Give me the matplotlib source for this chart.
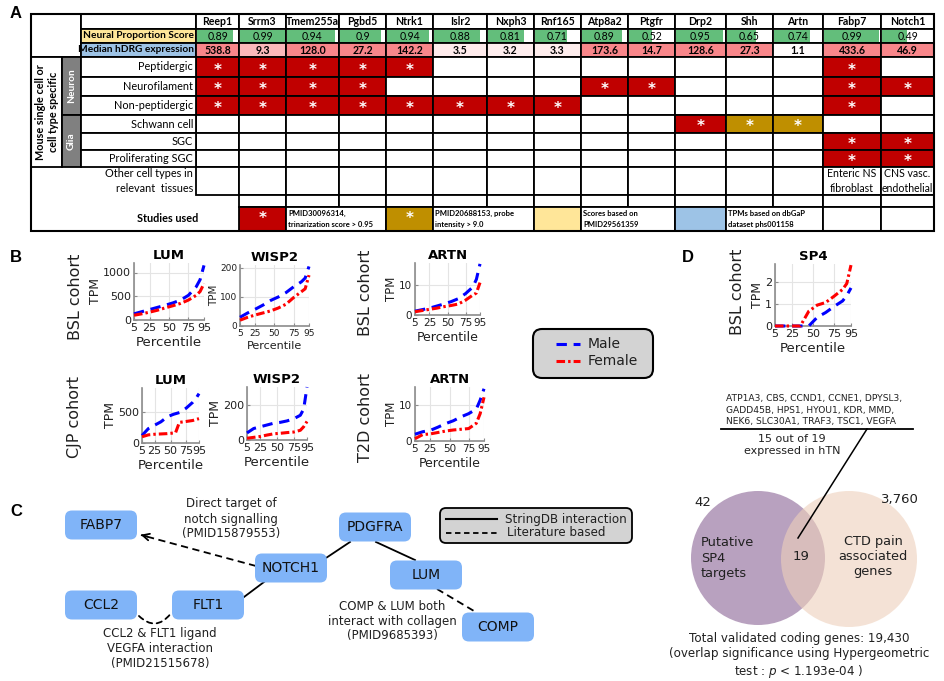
import numpy as np
import matplotlib
matplotlib.use("Agg")
import matplotlib.pyplot as plt
from matplotlib.patches import Rectangle, FancyBboxPatch, Circle, FancyArrowPatch

W, H = 944, 681

# ---------------- panel A: marker gene table ----------------
genes = ["Reep1", "Srrm3", "Tmem255a", "Pgbd5", "Ntrk1", "Islr2", "Nxph3", "Rnf165",
         "Atp8a2", "Ptgfr", "Drp2", "Shh", "Artn", "Fabp7", "Notch1"]
neural_score = [0.89, 0.99, 0.94, 0.9, 0.94, 0.88, 0.81, 0.71, 0.89, 0.52, 0.95, 0.65, 0.74, 0.99, 0.49]
median_hdrg = [538.8, 9.3, 128.0, 27.2, 142.2, 3.5, 3.2, 3.3, 173.6, 14.7, 128.6, 27.3, 1.1, 433.6, 46.9]
cell_types = ["Peptidergic", "Neurofilament", "Non-peptidergic", "Schwann cell", "SGC", "Proliferating SGC"]
# 1 = PMID30096314 (red), 2 = PMID20688153 (gold)
specific = [
    [1, 1, 1, 1, 1, 0, 0, 0, 0, 0, 0, 0, 0, 1, 0],
    [1, 1, 1, 1, 0, 0, 0, 0, 1, 1, 0, 0, 0, 1, 1],
    [1, 1, 1, 1, 1, 1, 1, 1, 0, 0, 0, 0, 0, 1, 0],
    [0, 0, 0, 0, 0, 0, 0, 0, 0, 0, 1, 2, 2, 0, 0],
    [0, 0, 0, 0, 0, 0, 0, 0, 0, 0, 0, 0, 0, 1, 1],
    [0, 0, 0, 0, 0, 0, 0, 0, 0, 0, 0, 0, 0, 1, 1],
]
other_types = [""] * 13 + ["Enteric NS\nfibroblast", "CNS vasc.\nendothelial"]

# ---------------- panel B / D: TPM by percentile ----------------
pct = [5, 15, 25, 35, 45, 55, 65, 75, 85, 90, 95]
bsl_lum_m = [130, 175, 220, 265, 310, 360, 420, 520, 700, 850, 1150]
bsl_lum_f = [100, 130, 165, 205, 255, 300, 350, 420, 520, 600, 770]
bsl_wisp2_m = [30, 45, 58, 72, 88, 100, 115, 135, 152, 165, 205]
bsl_wisp2_f = [20, 30, 38, 45, 52, 62, 75, 98, 118, 128, 175]
cjp_lum_m = [120, 230, 285, 340, 420, 460, 490, 560, 650, 710, 790]
pct_cjp_lum_f = [5, 15, 25, 35, 45, 55, 58, 64, 75, 85, 95]
cjp_lum_f = [100, 130, 140, 145, 150, 160, 165, 330, 345, 360, 390]
cjp_wisp2_m = [40, 65, 75, 85, 95, 100, 108, 120, 140, 175, 300]
cjp_wisp2_f = [10, 15, 20, 28, 35, 38, 42, 45, 55, 75, 105]
bsl_artn_m = [1.3, 1.8, 2.3, 3.0, 3.7, 4.5, 5.5, 7.2, 9.4, 12.0, 17.2]
bsl_artn_f = [1.1, 1.5, 1.9, 2.3, 2.8, 3.2, 3.7, 5.0, 6.7, 7.4, 10.9]
t2d_artn_m = [1.9, 2.6, 3.0, 3.9, 4.9, 5.7, 6.8, 7.7, 9.0, 11.5, 14.7]
t2d_artn_f = [0.65, 1.8, 2.0, 2.4, 2.8, 3.1, 3.3, 3.5, 5.0, 7.7, 12.3]
sp4_m = [0, 0, 0, 0, 0, 0.4, 0.62, 0.9, 1.15, 1.4, 1.75]
sp4_f = [0, 0, 0, 0, 0.68, 0.96, 1.08, 1.37, 1.68, 1.95, 2.8]

# ---------------- panel D: venn ----------------
venn_left, venn_both, venn_right = 42, 19, 3760
sp4_genes = ["ATP1A3, CBS, CCND1, CCNE1, DPYSL3,",
             "GADD45B, HPS1, HYOU1, KDR, MMD,",
             "NEK6, SLC30A1, TRAF3, TSC1, VEGFA"]
total_genes = 19430
p_value = 1.193e-04

TABLE_FONT = "Lato"
plt.rcParams["font.family"] = ["DejaVu Sans"]

fig = plt.figure(figsize=(W / 100, H / 100), dpi=100)
ax0 = fig.add_axes([0, 0, 1, 1])
ax0.set_xlim(0, W)
ax0.set_ylim(H, 0)
ax0.axis("off")


def px_rect(l, t, r, b):
    return [l / W, 1 - b / H, (r - l) / W, (b - t) / H]


def cell(x0, y0, x1, y1, fc="white", ec="black", lw=1.3):
    ax0.add_patch(Rectangle((x0, y0), x1 - x0, y1 - y0, facecolor=fc, edgecolor=ec, lw=lw))


def star(x, y):
    ax0.text(x, y + 3, "*", color="white", fontsize=11, fontweight="bold",
             ha="center", va="center", family="DejaVu Sans")


for lab, (x, y) in zip("ABCD", [(10, 13), (10, 258), (10, 512), (682, 258)]):
    ax0.text(x, y, lab, fontsize=12, fontweight="bold", family="Liberation Sans",
             ha="left", va="center")

col_x = [196, 239, 286, 339, 386, 433, 487, 534, 581, 628, 675, 726, 773, 823, 881, 934]
row_y = [14, 29, 43, 57, 77, 96, 115, 133, 150, 167, 195, 207, 231]
RED, GOLD, YEL, BLU = "#C00000", "#BF8F00", "#FFE699", "#9DC3E6"

cell(31, 14, 81, 57)
cell(81, 14, 196, 29)
cell(81, 29, 196, 43, fc=YEL)
cell(81, 43, 196, 57, fc=BLU)
ax0.text(194, 36, "Neural Proportion Score", ha="right", va="center", fontsize=7.3,
         fontweight="bold", family=TABLE_FONT)
ax0.text(194.5, 50, "Median hDRG expression", ha="right", va="center", fontsize=7.3,
         fontweight="bold", family=TABLE_FONT)
cell(31, 57, 62, 167)
ax0.text(47, 112, "Mouse single cell or\ncell type specific", rotation=90, ha="center",
         va="center", fontsize=7.8, fontweight="bold", family=TABLE_FONT, linespacing=1.2)
cell(62, 57, 81, 115, fc="#808080")
cell(62, 115, 81, 167, fc="#808080")
ax0.text(71.5, 86, "Neuron", rotation=90, color="white", ha="center", va="center",
         fontsize=7.3, fontweight="bold", family=TABLE_FONT)
ax0.text(71.5, 141, "Glia", rotation=90, color="white", ha="center", va="center",
         fontsize=7.3, fontweight="bold", family=TABLE_FONT)

sal = np.array([248, 134, 138]) / 255.0
for j, g in enumerate(genes):
    x0, x1 = col_x[j], col_x[j + 1]
    xc = (x0 + x1) / 2
    cell(x0, row_y[0], x1, row_y[1])
    ax0.text(xc, (row_y[0] + row_y[1]) / 2, g, ha="center", va="center", fontsize=7.6,
             fontweight="bold", family=TABLE_FONT)
    # neural proportion score with data bar
    cell(x0, row_y[1], x1, row_y[2])
    ax0.add_patch(Rectangle((x0 + 1, row_y[1] + 1), (x1 - x0 - 2) * neural_score[j],
                            row_y[2] - row_y[1] - 2, facecolor="#63BE7B", edgecolor="none"))
    ax0.text(xc, (row_y[1] + row_y[2]) / 2, f"{neural_score[j]:g}", ha="center", va="center",
             fontsize=7.6, family=TABLE_FONT)
    # median hDRG expression colour scale
    t = min(1.0, (median_hdrg[j] / 14.0) ** 1.3)
    fc = 1 - t * (1 - sal)
    cell(x0, row_y[2], x1, row_y[3], fc=fc)
    ax0.text(xc, (row_y[2] + row_y[3]) / 2, f"{median_hdrg[j]:.1f}", ha="center", va="center",
             fontsize=7.6, fontweight="bold", family=TABLE_FONT)
    for i in range(len(cell_types)):
        v = specific[i][j]
        y0, y1 = row_y[3 + i], row_y[4 + i]
        cell(x0, y0, x1, y1, fc=["white", RED, GOLD][v])
        if v:
            star(xc, (y0 + y1) / 2)
    cell(x0, row_y[9], x1, row_y[10])
    if other_types[j]:
        ax0.text(xc, (row_y[9] + row_y[10]) / 2, other_types[j], ha="center", va="center",
                 fontsize=7.6, family=TABLE_FONT, linespacing=1.5)
    if j > 0:
        cell(x0, row_y[10], x1, row_y[11])

for i, ct in enumerate(cell_types):
    y0, y1 = row_y[3 + i], row_y[4 + i]
    cell(81, y0, 196, y1)
    ax0.text(193, (y0 + y1) / 2, ct, ha="right", va="center", fontsize=7.8, family=TABLE_FONT)
ax0.text(193, 181, "Other cell types in\nrelevant  tissues", ha="right", va="center",
         fontsize=7.8, family=TABLE_FONT, linespacing=1.55)
ax0.text(168, 219, "Studies used", ha="center", va="center", fontsize=7.8,
         fontweight="bold", family=TABLE_FONT)

studies = [(239, 286, RED, True, ""),
           (286, 386, "white", False, "PMID30096314,\ntrinarization score > 0.95"),
           (386, 433, GOLD, True, ""),
           (433, 534, "white", False, "PMID20688153, probe\nintensity > 9.0"),
           (534, 581, YEL, False, ""),
           (581, 675, "white", False, "Scores based on\nPMID29561359"),
           (675, 726, BLU, False, ""),
           (726, 823, "white", False, "TPMs based on dbGaP\ndataset phs001158"),
           (823, 881, "white", False, ""),
           (881, 934, "white", False, "")]
for x0, x1, fc, st, txt in studies:
    cell(x0, row_y[11], x1, row_y[12], fc=fc)
    if st:
        star((x0 + x1) / 2, (row_y[11] + row_y[12]) / 2 - 3)
    if txt:
        ax0.text(x0 + 2, (row_y[11] + row_y[12]) / 2, txt, ha="left", va="center",
                 fontsize=5.5, fontweight="bold", family=TABLE_FONT, linespacing=1.6)
ax0.add_patch(Rectangle((31, 14), 934 - 31, 231 - 14, fill=False, edgecolor="black", lw=1.5))


# ---------------- line panels ----------------
def trace_panel(box, title, ym, yf, ylim, yticks, xf=pct, fs=8.0):
    ax = fig.add_axes(px_rect(*box))
    ax.plot(pct, ym, color="#0000FF", ls=(0, (3.4, 2.2)), lw=2.2, zorder=3, clip_on=False)
    ax.plot(xf, yf, color="#FF0000", ls=(0, (2.8, 1.0, 0.8, 1.0)), lw=2.2, zorder=4, clip_on=False)
    ax.set_xlim(5, 95)
    ax.set_ylim(*ylim)
    ax.set_xticks([5, 25, 50, 75, 95])
    ax.set_yticks(yticks)
    ax.grid(True, color="#E4E4E4", lw=0.8)
    ax.set_axisbelow(True)
    for s in ("top", "right"):
        ax.spines[s].set_visible(False)
    for s in ("left", "bottom"):
        ax.spines[s].set_color("#8C8C8C")
        ax.spines[s].set_linewidth(1.2)
    ax.tick_params(direction="in", length=2.5, color="#8C8C8C", labelsize=fs, pad=2,
                   labelcolor="#202020")
    ax.set_title(title, fontsize=9.5, fontweight="bold", pad=3)
    ax.set_xlabel("Percentile", fontsize=fs + 1.5, labelpad=2, color="#202020")
    ax.set_ylabel("TPM", fontsize=fs + 1, labelpad=1, color="#202020")
    return ax


trace_panel((134, 263, 204, 320), "LUM", bsl_lum_m, bsl_lum_f, (0, 1200), [0, 500, 1000])
trace_panel((240, 265, 309, 326), "WISP2", bsl_wisp2_m, bsl_wisp2_f, (0, 210), [0, 100, 200], fs=6.5)
trace_panel((142, 388, 199, 443), "LUM", cjp_lum_m, cjp_lum_f, (0, 880), [0, 500], xf=pct_cjp_lum_f)
trace_panel((247, 387, 307, 440), "WISP2", cjp_wisp2_m, cjp_wisp2_f, (0, 300), [0, 200])
trace_panel((415, 263, 480, 315), "ARTN", bsl_artn_m, bsl_artn_f, (0, 17.5), [0, 10], fs=7.5)
trace_panel((415, 387, 484, 441), "ARTN", t2d_artn_m, t2d_artn_f, (0, 15.2), [0, 10], fs=7.5)
trace_panel((775, 264, 851, 326), "SP4", sp4_m, sp4_f, (0, 2.85), [0, 1, 2])

for x, y, txt in [(75, 297, "BSL cohort"), (75, 417, "CJP cohort"), (365, 293, "BSL cohort"),
                  (365, 417, "T2D cohort"), (738, 292, "BSL cohort")]:
    ax0.text(x, y, txt, rotation=90, ha="center", va="center", fontsize=11.5, color="#202020")

# legend for B
ax0.add_patch(FancyBboxPatch((533, 329), 120, 49, boxstyle="round,pad=0,rounding_size=9",
                             facecolor="#D3D3D3", edgecolor="black", lw=1.5))
ax0.plot([556, 580], [344, 344], color="#0000FF", ls=(0, (3.4, 2.2)), lw=2.2)
ax0.plot([556, 580], [361, 361], color="#FF0000", ls=(0, (2.8, 1.0, 0.8, 1.0)), lw=2.2)
ax0.text(588, 344, "Male", ha="left", va="center", fontsize=10, color="#202020")
ax0.text(588, 361, "Female", ha="left", va="center", fontsize=10, color="#202020")

# ---------------- panel C: network ----------------
nodes = {"FABP7": (101, 525), "CCL2": (101, 605), "FLT1": (208, 605), "NOTCH1": (291, 568),
         "PDGFRA": (375, 527), "LUM": (426, 575), "COMP": (498, 627)}
nw, nh = 72, 29
for name, (cx, cy) in nodes.items():
    ax0.add_patch(FancyBboxPatch((cx - nw / 2, cy - nh / 2), nw, nh,
                                 boxstyle="round,pad=0,rounding_size=7",
                                 facecolor="#80B4F8", edgecolor="none", zorder=3))
    ax0.text(cx, cy, name, ha="center", va="center", fontsize=10, zorder=4, color="#111111")

ax0.plot([256, 141], [566, 535], color="black", lw=1.3, ls=(0, (4, 2.5)))
ax0.annotate("", xy=(138, 534), xytext=(150, 537.3),
             arrowprops=dict(arrowstyle="->", lw=1.3, color="black", mutation_scale=12))
ax0.plot([264, 244], [582, 597], color="black", lw=1.3)
ax0.plot([326, 350], [558, 542], color="black", lw=1.3)
ax0.plot([376, 415], [542, 560], color="black", lw=1.3)
ax0.plot([437, 474], [589, 611], color="black", lw=1.3, ls=(0, (4, 2.5)))
ax0.add_patch(FancyArrowPatch((137, 614), (172, 612), arrowstyle="-",
                              connectionstyle="arc3,rad=0.6", lw=1.3, ls=(0, (3, 2.5)),
                              color="black"))

ax0.text(231, 519, "Direct target of\nnotch signalling\n(PMID15879553)", ha="center",
         va="center", fontsize=8.5, linespacing=1.2, color="#202020")
ax0.text(160, 648, "CCL2 & FLT1 ligand\nVEGFA interaction\n(PMID21515678)", ha="center",
         va="center", fontsize=8.5, linespacing=1.2, color="#202020")
ax0.text(392, 621, "COMP & LUM both\ninteract with collagen\n(PMID9685393)", ha="center",
         va="center", fontsize=8.5, linespacing=1.2, color="#202020")

ax0.add_patch(FancyBboxPatch((440, 508), 192, 35, boxstyle="round,pad=0,rounding_size=6",
                             facecolor="#D3D3D3", edgecolor="black", lw=1.3))
ax0.plot([446, 497], [519, 519], color="black", lw=1.5)
ax0.plot([446, 497], [533, 533], color="black", lw=1.3, ls=(0, (3, 2)))
ax0.text(505, 519, "StringDB interaction", ha="left", va="center", fontsize=8.6, color="#202020")
ax0.text(507, 533, "Literature based", ha="left", va="center", fontsize=8.6, color="#202020")

# ---------------- panel D: venn ----------------
ax0.text(726, 410, "\n".join(sp4_genes), ha="left", va="center", fontsize=6.6,
         linespacing=1.3, color="#202020")
ax0.plot([721, 913], [429, 429], color="black", lw=1.3)
ax0.text(792, 445, "15 out of 19\nexpressed in hTN", ha="center", va="center", fontsize=8,
         linespacing=1.15, color="#202020")
ax0.add_patch(Circle((758, 558), 67, facecolor=(0.72, 0.63, 0.75), edgecolor="none", zorder=1))
ax0.add_patch(Circle((849, 559), 68, facecolor=(0.933, 0.817, 0.733), alpha=0.6,
                     edgecolor="none", zorder=2))
ax0.plot([867, 798], [429, 538], color="black", lw=1.1, zorder=5)
ax0.text(703, 503, f"{venn_left}", ha="center", va="center", fontsize=9.5, color="#202020")
ax0.text(900, 499, f"{venn_right:,}", ha="center", va="center", fontsize=9.5, color="#202020")
ax0.text(801, 557, f"{venn_both}", ha="center", va="center", fontsize=9.5, zorder=6,
         color="#202020")
ax0.text(701, 558, "Putative\nSP4\ntargets", ha="left", va="center", fontsize=9.3,
         linespacing=1.2, zorder=6, color="#202020")
ax0.text(873, 557, "CTD pain\nassociated\ngenes", ha="center", va="center", fontsize=9.3,
         linespacing=1.2, zorder=6, color="#202020")
ax0.text(799, 656, f"Total validated coding genes: {total_genes:,}\n"
                   "(overlap significance using Hypergeometric\n"
                   f"test : $p$ < {p_value:.3e} )", ha="center", va="center",
         fontsize=8.6, linespacing=1.25, color="#202020")

fig.savefig("out.png", dpi=100)
